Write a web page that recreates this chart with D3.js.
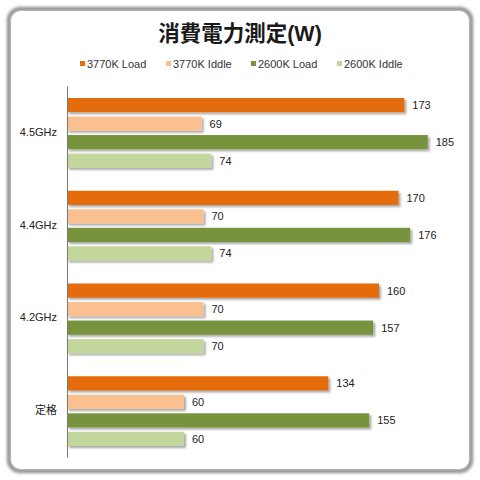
<!DOCTYPE html>
<html>
<head>
<meta charset="utf-8">
<script src="https://cdn.jsdelivr.net/npm/d3@7"></script>
<style>
  body { margin: 0; background: #fff; }
  text { font-family: Arial, "Liberation Sans", "Noto Sans CJK JP", sans-serif; }
</style>
</head>
<body>
<svg id="chart" width="480" height="480"></svg>
<script>
// données
var categories = ["4.5GHz", "4.4GHz", "4.2GHz", "定格"];
var series = ["3770K Load", "3770K Iddle", "2600K Load", "2600K Iddle"];
var couleurs = ["#E46C0A", "#FAC090", "#77933C", "#C3D69B"];
var load3770 = [173, 170, 160, 134];
var idle3770 = [69, 70, 70, 60];
var load2600 = [185, 176, 157, 155];
var idle2600 = [74, 74, 70, 60];
var valeurs = [load3770, idle3770, load2600, idle2600];

var svg = d3.select("#chart");
var defs = svg.append("defs");

/* ombre du cadre */
var fCadre = defs.append("filter").attr("id", "ombreCadre")
    .attr("x", "-5%").attr("y", "-5%").attr("width", "110%").attr("height", "110%");
fCadre.append("feGaussianBlur").attr("stdDeviation", 1.5);

/* ombre des barres */
var fBarre = defs.append("filter").attr("id", "ombreBarre")
    .attr("x", "-5%").attr("y", "-20%").attr("width", "115%").attr("height", "160%");
fBarre.append("feGaussianBlur").attr("in", "SourceAlpha").attr("stdDeviation", 1).attr("result", "flou");
fBarre.append("feOffset").attr("in", "flou").attr("dx", 2).attr("dy", 2).attr("result", "decale");
fBarre.append("feComponentTransfer").attr("in", "decale").attr("result", "gris")
    .append("feFuncA").attr("type", "linear").attr("slope", 0.35);
var fm = fBarre.append("feMerge");
fm.append("feMergeNode").attr("in", "gris");
fm.append("feMergeNode").attr("in", "SourceGraphic");

/* cadre arrondi */
svg.append("rect")
    .attr("x", 9).attr("y", 9).attr("width", 462).attr("height", 462)
    .attr("rx", 11)
    .attr("fill", "none")
    .attr("stroke", "#8c8c8c")
    .attr("stroke-width", 4)
    .attr("filter", "url(#ombreCadre)");
svg.append("rect")
    .attr("x", 11).attr("y", 11).attr("width", 458).attr("height", 458)
    .attr("rx", 10)
    .attr("fill", "#fff");

/* titre */
svg.append("text")
    .attr("x", 240).attr("y", 41)
    .attr("text-anchor", "middle")
    .attr("font-size", 21.5)
    .attr("font-weight", "bold")
    .attr("fill", "#1a1a1a")
    .text("消費電力測定(W)");

/* légende */
var legX = [80, 166, 251, 337];
var leg = svg.selectAll(".leg")
    .data(series)
    .enter()
    .append("g")
    .attr("class", "leg")
    .attr("transform", function (d, i) { return "translate(" + legX[i] + ",64)"; });
leg.append("rect")
    .attr("x", 0).attr("y", -3).attr("width", 5).attr("height", 5)
    .attr("fill", function (d, i) { return couleurs[i]; });
leg.append("text")
    .attr("x", 7).attr("y", 4)
    .attr("font-size", 11)
    .attr("fill", "#333")
    .text(function (d) { return d; });

/* échelles */
var gauche = 67, haut = 86, bas = 457;
var x = d3.scaleLinear().domain([0, 200]).range([gauche, gauche + 390]);
var y = d3.scaleBand().domain(categories).range([haut, bas]).padding(0);
var ySerie = d3.scaleBand().domain(series).range([12, y.bandwidth() - 11]).paddingInner(0.235).paddingOuter(0);

/* barres */
var groupes = svg.selectAll(".groupe")
    .data(categories)
    .enter()
    .append("g")
    .attr("class", "groupe")
    .attr("transform", function (d) { return "translate(0," + y(d) + ")"; });

series.forEach(function (s, j) {
    groupes.append("rect")
        .attr("x", x(0))
        .attr("y", ySerie(s))
        .attr("width", function (d, i) { return x(valeurs[j][i]) - x(0); })
        .attr("height", ySerie.bandwidth())
        .attr("fill", couleurs[j])
        .attr("filter", "url(#ombreBarre)");
    groupes.append("text")
        .attr("x", function (d, i) { return x(valeurs[j][i]) + 8; })
        .attr("y", ySerie(s) + ySerie.bandwidth() / 2 + 4)
        .attr("font-size", 11)
        .attr("fill", "#222")
        .text(function (d, i) { return valeurs[j][i]; });
});

/* axe vertical */
var axe = svg.append("g")
    .attr("transform", "translate(" + gauche + ",0)")
    .call(d3.axisLeft(y).tickSize(0).tickPadding(10));
axe.select(".domain").attr("stroke", "#777");
axe.selectAll("text")
    .attr("font-size", 11)
    .attr("fill", "#222")
    .style("font-family", "Arial, 'Liberation Sans', 'Noto Sans CJK JP', sans-serif");
</script>
</body>
</html>
